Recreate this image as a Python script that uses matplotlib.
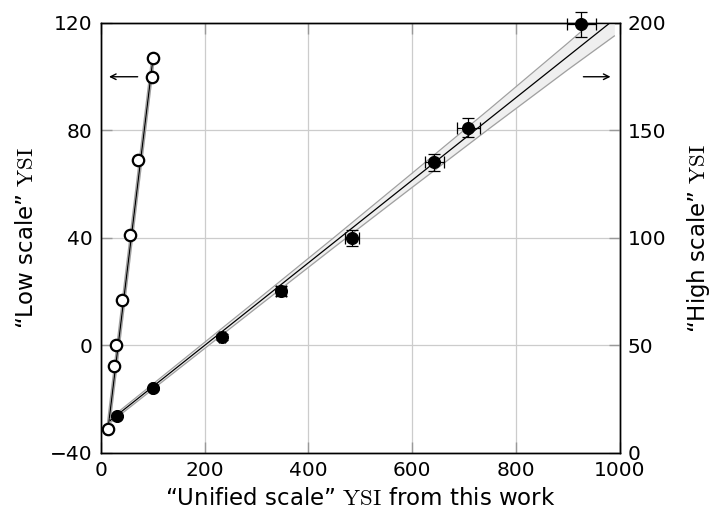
import numpy as np
import matplotlib
matplotlib.use('Agg')
import matplotlib.pyplot as plt

# ==============================================
# YSI scale comparison: low / high vs unified
# ==============================================

# "Low scale" points (open circles, left axis)
low_x = [14, 25, 29, 40, 55, 71, 99, 100]
low_y = [-31, -7.5, 0, 17, 41, 69, 100, 107]

# "High scale" points (filled circles, right axis)
high_x = [30, 100, 234, 347, 484, 643, 708, 926]
high_y = [17.2, 30.1, 53.9, 75.3, 100, 135.2, 151.3, 199.4]
high_xerr = [2, 3, 6, 9, 14, 19, 22, 28]
high_yerr = [0.5, 0.8, 1.5, 2.2, 3.5, 4.1, 4.4, 5.7]

# fit lines (x range, slope, intercept)
low_fit_x = [12, 101]
low_fit_slope = 1.59
low_fit_icpt = -52.5
low_band_dx = 2.6

high_fit_x = [18, 990]
high_fit_slope = 0.1919
high_fit_icpt = 11.7
# half-width of the grey band for the high-scale fit
band_x = [18, 150, 300, 450, 600, 750, 900, 990]
band_half = [1.0, 1.3, 1.7, 2.3, 3.3, 4.5, 6.2, 7.7]

xticks = [0, 200, 400, 600, 800, 1000]
left_ticks = [-40, 0, 40, 80, 120]
right_ticks = [0, 50, 100, 150, 200]

plt.rcParams['font.family'] = 'DejaVu Sans'
plt.rcParams['mathtext.fontset'] = 'cm'

fig = plt.figure(figsize=(7.13, 5.18), dpi=100)
ax = fig.add_axes([0.1417, 0.1255, 0.7272, 0.8301])
ax2 = ax.twinx()

band_fill = '#efefef'
band_edge = '#a0a0a0'

# low scale fit + band
lx = np.array(low_fit_x, dtype=float)
ly = low_fit_icpt + low_fit_slope * lx
ax.fill_betweenx(ly, lx - low_band_dx, lx + low_band_dx, color=band_fill, lw=0, zorder=2)
ax.plot(lx - low_band_dx, ly, color=band_edge, lw=0.9, zorder=2)
ax.plot(lx + low_band_dx, ly, color=band_edge, lw=0.9, zorder=2)
ax.plot(lx, ly, color='k', lw=0.9, zorder=3)
ax.plot(low_x, low_y, 'o', ms=8.2, mfc='white', mec='k', mew=1.6, zorder=5, clip_on=False)

# high scale fit + band
bx = np.array(band_x, dtype=float)
by = high_fit_icpt + high_fit_slope * bx
ax2.fill_between(bx, by - np.array(band_half), by + np.array(band_half),
                 color=band_fill, lw=0, zorder=2)
ax2.plot(bx, by - np.array(band_half), color=band_edge, lw=0.9, zorder=2)
ax2.plot(bx, by + np.array(band_half), color=band_edge, lw=0.9, zorder=2)
hx = np.array(high_fit_x, dtype=float)
ax2.plot(hx, high_fit_icpt + high_fit_slope * hx, color='k', lw=0.9, zorder=3)
ax2.errorbar(high_x, high_y, xerr=high_xerr, yerr=high_yerr, fmt='o', ms=8.4,
             mfc='k', mec='k', ecolor='k', elinewidth=0.9, capsize=4,
             capthick=0.9, zorder=5, clip_on=False)

# arrows showing which axis each series belongs to
ax.annotate('', xy=(10, 100), xytext=(76, 100),
            arrowprops=dict(arrowstyle='->', color='k', lw=1.0))
ax2.annotate('', xy=(988, 175), xytext=(925, 175),
             arrowprops=dict(arrowstyle='->', color='k', lw=1.0))

ax.set_xlim(0, 1000)
ax.set_ylim(-40, 120)
ax2.set_ylim(0, 200)
ax.set_xticks(xticks)
ax.set_yticks(left_ticks)
ax2.set_yticks(right_ticks)

ax.grid(True, color='#cccccc', lw=0.9, zorder=0)
ax.set_axisbelow(True)
ax.tick_params(axis='x', direction='in', top=True, length=8, width=1,
               color='#999999', labelsize=14.5, pad=6)
ax.tick_params(axis='y', direction='in', length=8, width=1,
               color='#999999', labelsize=14.5, pad=6)
ax2.tick_params(axis='y', direction='in', length=8, width=1,
                color='#999999', labelsize=14.5, pad=6)
for a in (ax, ax2):
    for s in a.spines.values():
        s.set_linewidth(1.0)
        s.set_color('k')

ax.set_xlabel('\u201cUnified scale\u201d $\\mathrm{YSI}$ from this work', fontsize=16.5, labelpad=5)
ax.set_ylabel('\u201cLow scale\u201d $\\mathrm{YSI}$', fontsize=16.5, labelpad=9)
ax2.set_ylabel('\u201cHigh scale\u201d $\\mathrm{YSI}$', fontsize=16.5, labelpad=13)

fig.savefig('out.png', dpi=100)
plt.close(fig)
